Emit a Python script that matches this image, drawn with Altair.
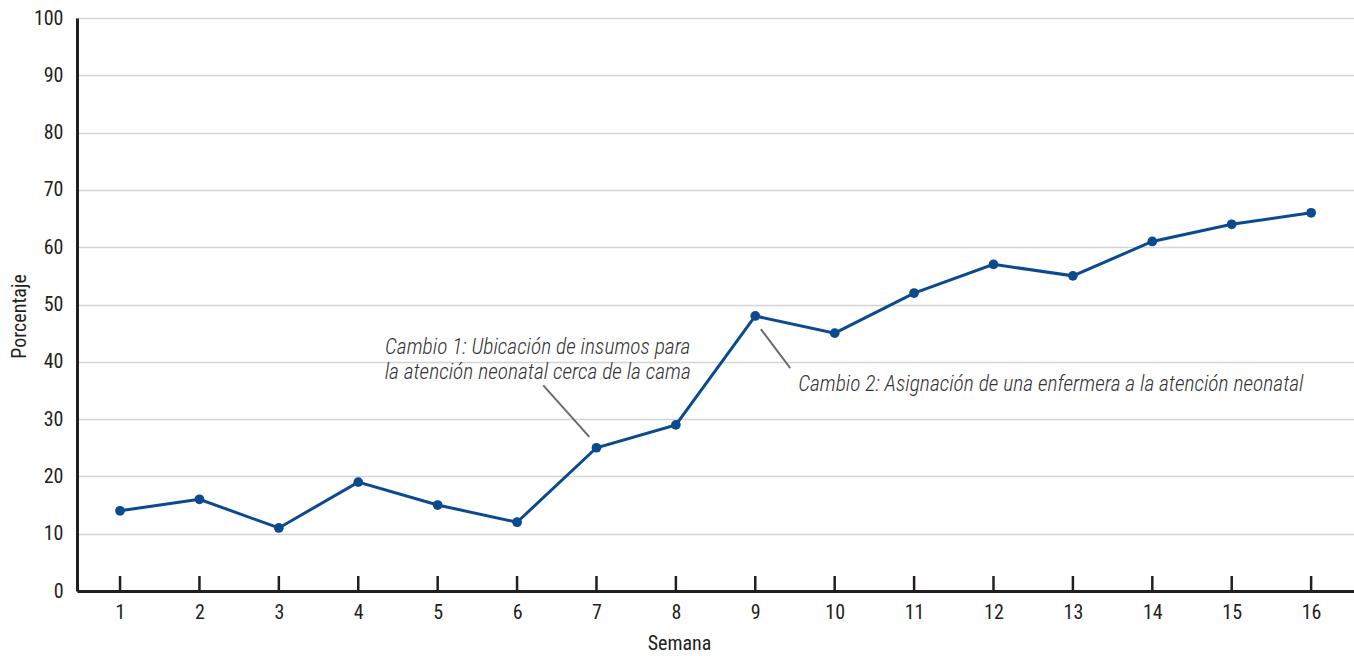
import altair as alt
import pandas as pd

# Weekly percentage series
semanas = list(range(1, 17))
porcentaje = [14, 16, 11, 19, 15, 12, 25, 29, 48, 45, 52, 57, 55, 61, 64, 66]

# Annotation texts and their anchor / leader-line positions (data units)
nota1_lineas = ["Cambio 1: Ubicación de insumos para",
                "la atención neonatal cerca de la cama"]
nota1_x = 6.26
nota1_y = [42.4, 38.0]
nota1_linea = [(6.33, 35.9), (6.91, 26.9)]

nota2_texto = "Cambio 2: Asignación de una enfermera a la atención neonatal"
nota2_pos = (9.54, 36.0)
nota2_linea = [(9.07, 45.7), (9.44, 38.9)]

FONT = "Roboto Condensed, Roboto, sans-serif"
BLUE = "#0b4a8f"
INK = "#231f20"

df = pd.DataFrame({"semana": semanas, "pct": porcentaje})
ticks_df = pd.DataFrame({"semana": semanas, "base": [0] * len(semanas)})

x_scale = alt.Scale(domain=[0.458, 16.54], nice=False, zero=False)
y_scale = alt.Scale(domain=[0, 100], nice=False)

x_enc = alt.X(
    "semana:Q", scale=x_scale, title="Semana",
    axis=alt.Axis(values=semanas, format="d", grid=False, ticks=False,
                  domainColor=INK, domainWidth=3, labelPadding=11,
                  titleX=602, titleY=52, titleBaseline="middle"),
)
y_enc = alt.Y(
    "pct:Q", scale=y_scale, title="Porcentaje",
    axis=alt.Axis(values=list(range(0, 101, 10)), grid=True, ticks=False,
                  domainColor=INK, domainWidth=3, labelPadding=14,
                  gridColor="#d4d4d4", gridWidth=1.5,
                  titleX=-58, titleY=298, titleBaseline="middle"),
)

line = alt.Chart(df).mark_line(color=BLUE, strokeWidth=3).encode(x=x_enc, y=y_enc)
points = alt.Chart(df).mark_circle(color=BLUE, size=95, opacity=1).encode(
    x="semana:Q", y="pct:Q")

# Upward tick marks sitting on the x axis
axis_ticks = alt.Chart(ticks_df).mark_tick(
    orient="vertical", color=INK, thickness=2.5, size=15, yOffset=-7.5, opacity=1
).encode(x="semana:Q", y="base:Q")

# Leader lines
lead_df = pd.DataFrame({
    "x": [nota1_linea[0][0], nota2_linea[0][0]],
    "y": [nota1_linea[0][1], nota2_linea[0][1]],
    "x2": [nota1_linea[1][0], nota2_linea[1][0]],
    "y2": [nota1_linea[1][1], nota2_linea[1][1]],
})
leaders = alt.Chart(lead_df).mark_rule(color="#6b6b6b", strokeWidth=2).encode(
    x="x:Q", y="y:Q", x2="x2:Q", y2="y2:Q")

note_style = dict(font=FONT, fontSize=21.5, fontStyle="italic", fontWeight=300,
                  color="#333333", baseline="middle")

nota1_df = pd.DataFrame({"x": [nota1_x] * 2, "y": nota1_y, "t": nota1_lineas})
nota1 = alt.Chart(nota1_df).mark_text(align="center", **note_style).encode(
    x="x:Q", y="y:Q", text="t:N")

nota2_df = pd.DataFrame({"x": [nota2_pos[0]], "y": [nota2_pos[1]], "t": [nota2_texto]})
nota2 = alt.Chart(nota2_df).mark_text(align="left", **note_style).encode(
    x="x:Q", y="y:Q", text="t:N")

chart = alt.layer(line, points, axis_ticks, leaders, nota1, nota2).properties(
    width=1277, height=573,
    autosize=alt.AutoSizeParams(type="none"),
    padding={"left": 77, "top": 18, "right": 0, "bottom": 65},
).configure_view(stroke=None).configure_axis(
    labelFont=FONT, labelFontSize=20, labelColor=INK, labelFontWeight=400,
    titleFont=FONT, titleFontSize=20, titleColor=INK, titleFontWeight=400,
)

chart.save("out.html", embed_options={"renderer": "svg", "actions": False})
